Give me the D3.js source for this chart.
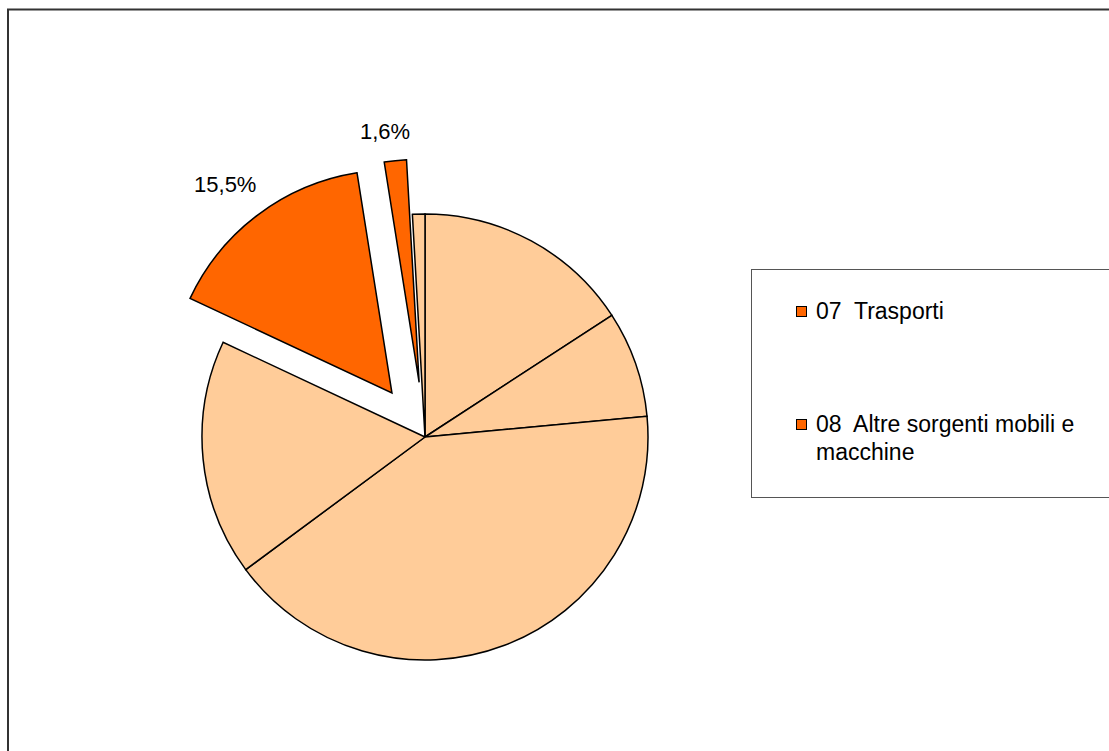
<!DOCTYPE html>
<html>
<head>
<meta charset="utf-8">
<script src="https://cdn.jsdelivr.net/npm/d3@7/dist/d3.min.js"></script>
<style>
  html, body { margin: 0; padding: 0; background: #fff; }
  svg { display: block; font-family: "Liberation Sans", Arial, sans-serif; }
</style>
</head>
<body>
<svg id="chart" width="1109" height="751"></svg>
<script>
// ---- data (percent shares, clockwise from 12 o'clock) ----
const categories = ["Altro 1", "Altro 2", "Altro 3", "Altro 4", "07  Trasporti", "08  Altre sorgenti mobili e macchine", "Altro 5"];
const values = [15.8, 7.7, 41.3, 17.1, 15.5, 1.6, 0.9];
const exploded = [false, false, false, false, true, true, false];
const highlighted = [false, false, false, false, true, true, false];
const valueLabels = ["", "", "", "", "15,5%", "1,6%", ""];
const legendItems = ["07  Trasporti", "08  Altre sorgenti mobili e macchine"];

const W = 1109, H = 751;
const cx = 425, cy = 437, R = 223, explodeDist = 55;
const labelGap = 17.5, labelAngleNudge = -0.028;
const paleColor = "#FFCC99", hotColor = "#FF6600";

const svg = d3.select("#chart");

// outer frame
svg.append("rect")
  .attr("x", 8).attr("y", 9.5)
  .attr("width", W + 20).attr("height", H + 20)
  .attr("fill", "none").attr("stroke", "#333").attr("stroke-width", 2);

const data = categories.map((c, i) => ({ name: c, value: values[i], exploded: exploded[i], hot: highlighted[i], label: valueLabels[i] }));

const pie = d3.pie().sort(null).value(d => d.value);
const arcs = pie(data);
const arc = d3.arc().innerRadius(0).outerRadius(R);

const g = svg.append("g").attr("transform", `translate(${cx},${cy})`);

function mid(d) { return (d.startAngle + d.endAngle) / 2; }
function offset(d) {
  if (!d.data.exploded) return [0, 0];
  const m = mid(d);
  return [Math.sin(m) * explodeDist, -Math.cos(m) * explodeDist];
}

g.selectAll("path.slice")
  .data(arcs)
  .join("path")
  .attr("class", "slice")
  .attr("d", arc)
  .attr("transform", d => { const o = offset(d); return `translate(${o[0]},${o[1]})`; })
  .attr("fill", d => d.data.hot ? hotColor : paleColor)
  .attr("stroke", "#000")
  .attr("stroke-width", 1.5)
  .attr("stroke-linejoin", "miter");

// value labels: placed outside the (exploded) slice, box edge at labelGap from the rim
g.selectAll("text.vlabel")
  .data(arcs.filter(d => d.data.label))
  .join("text")
  .attr("class", "vlabel")
  .attr("text-anchor", "middle")
  .attr("font-size", 22)
  .attr("fill", "#000")
  .text(d => d.data.label)
  .each(function(d) {
    const bb = this.getBBox();
    const m = mid(d) + labelAngleNudge;
    const s = Math.sin(m), c = Math.cos(m);
    const proj = Math.abs(s) * bb.width / 2 + Math.abs(c) * bb.height / 2 * 0.78;
    const o = offset(d);
    const dist = R + labelGap + proj;
    const x = o[0] + s * dist, y = o[1] - c * dist;
    d3.select(this).attr("x", x).attr("y", y).attr("dy", "0.36em");
  });

// legend
const lg = svg.append("g");
lg.append("rect")
  .attr("x", 751.5).attr("y", 269.5)
  .attr("width", 400).attr("height", 228)
  .attr("fill", "#fff").attr("stroke", "#555").attr("stroke-width", 1);

const legendY = d3.scalePoint().domain(legendItems).range([319, 432]);
const maxTextW = 290, lineH = 28, textX = 816;

legendItems.forEach(name => {
  const y = legendY(name);
  lg.append("rect")
    .attr("x", 796.5).attr("y", y - 12.5)
    .attr("width", 10).attr("height", 10)
    .attr("fill", hotColor).attr("stroke", "#000").attr("stroke-width", 1);
  const t = lg.append("text")
    .attr("x", textX).attr("y", y)
    .attr("font-size", 23)
    .attr("fill", "#000")
    .attr("xml:space", "preserve")
    .style("white-space", "pre");
  const words = name.split(" ");
  let line = [];
  let tspan = t.append("tspan").attr("x", textX).attr("y", y);
  let lineNo = 0;
  words.forEach(w => {
    line.push(w);
    tspan.text(line.join(" "));
    if (tspan.node().getComputedTextLength() > maxTextW && line.length > 1) {
      line.pop();
      tspan.text(line.join(" "));
      line = [w];
      lineNo++;
      tspan = t.append("tspan").attr("x", textX).attr("y", y + lineNo * lineH).text(w);
    }
  });
});
</script>
</body>
</html>
